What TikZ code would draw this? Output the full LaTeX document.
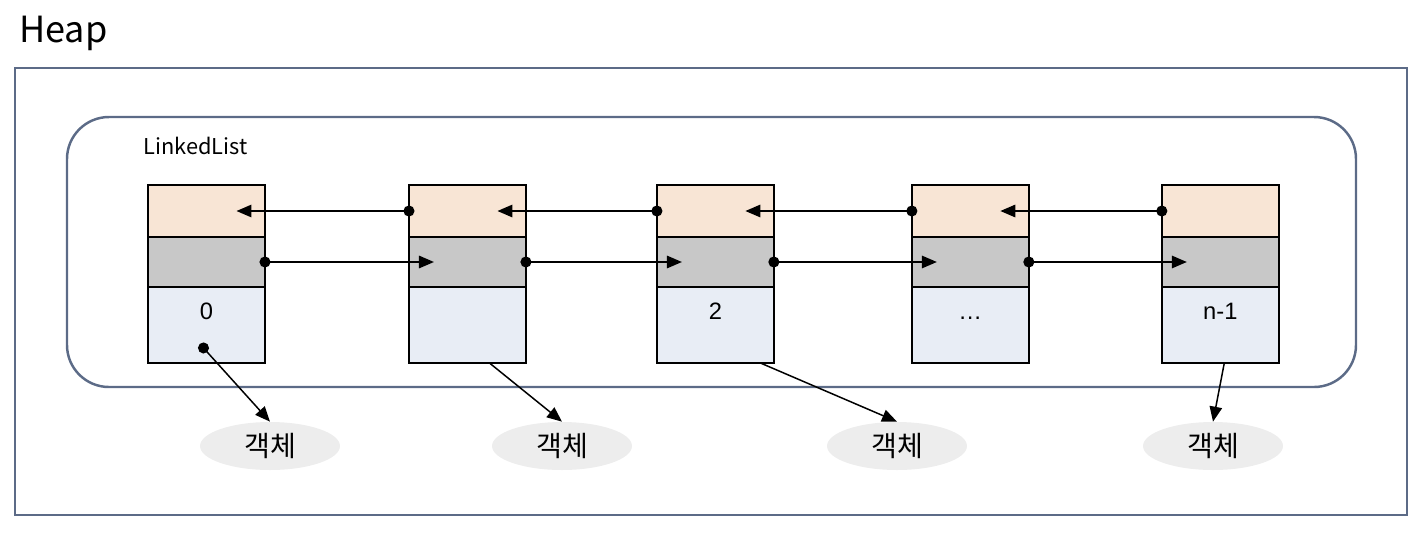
\documentclass[tikz,border=0pt]{standalone}
\usepackage{fontspec}
\setmainfont{Noto Sans CJK KR}
\newfontfamily\numfont{Liberation Sans}
\usetikzlibrary{positioning, arrows.meta, shapes.geometric, calc}
\definecolor{heapslate}{HTML}{5C6B87}
\definecolor{prevpeach}{HTML}{F8E5D5}
\definecolor{nextgray}{HTML}{C8C8C8}
\definecolor{itemblue}{HTML}{E8EDF5}
\definecolor{objgray}{HTML}{EDEDED}

\begin{document}
\begin{tikzpicture}[
  x=0.02cm, y=-0.02cm,
  cell/.style={draw=black, line width=1.1pt, minimum width=2.34cm, outer sep=0pt, inner sep=0pt},
  prevcell/.style={cell, fill=prevpeach, minimum height=1.04cm},
  nextcell/.style={cell, fill=nextgray, minimum height=1.0cm},
  itemcell/.style={cell, fill=itemblue, minimum height=1.52cm, text height=0.66cm, text depth=0.86cm,
    font=\numfont\fontsize{13.5}{15}\selectfont},
  obj/.style={ellipse, fill=objgray, minimum width=2.8cm, minimum height=0.96cm, inner sep=0pt,
    font=\fontsize{16}{18}\selectfont},
  heapframe/.style={draw=heapslate, line width=1.4pt},
  ptr/.style={{Circle[length=0.22cm]}-{Triangle[length=0.3cm, width=0.25cm]}, line width=0.85pt, shorten <=-0.11cm},
  objarr/.style={-{Triangle[length=0.3cm, width=0.25cm]}, line width=0.85pt}
]
\useasboundingbox (0,0) rectangle (1424,532);
\node[font=\fontsize{20.5}{24}\selectfont, anchor=base west, inner sep=0pt] (heap) at (19,42) {Heap};
\draw[heapframe] (15,68) rectangle (1407,515);
\draw[heapframe, rounded corners=0.84cm] (67,117) rectangle (1356,387);
\node[font=\fontsize{12.4}{15}\selectfont, anchor=base west, inner sep=0pt] (listname) at (143,154) {LinkedList};

\node[prevcell] (p0) at (206.5,211) {};
\node[nextcell, below=0pt of p0] (x0) {};
\node[itemcell, below=0pt of x0] (v0) {0};
\node[prevcell, right=2.88cm of p0] (p1) {};
\node[nextcell, below=0pt of p1] (x1) {};
\node[itemcell, below=0pt of x1] (v1) {};
\node[prevcell, right=2.62cm of p1] (p2) {};
\node[nextcell, below=0pt of p2] (x2) {};
\node[itemcell, below=0pt of x2] (v2) {2};
\node[prevcell, right=2.76cm of p2] (p3) {};
\node[nextcell, below=0pt of p3] (x3) {};
\node[itemcell, below=0pt of x3] (v3) {…};
\node[prevcell, right=2.66cm of p3] (p4) {};
\node[nextcell, below=0pt of p4] (x4) {};
\node[itemcell, below=0pt of x4] (v4) {n-1};

\node[obj] (obj0) at (270,446) {객체};
\node[obj] (obj1) at (562,446) {객체};
\node[obj] (obj2) at (897,446) {객체};
\node[obj] (objn) at (1213,446) {객체};

\draw[ptr] (p1.west) -- ($(p0.center)+(30,0)$);
\draw[ptr] (p2.west) -- ($(p1.center)+(30,0)$);
\draw[ptr] (p3.west) -- ($(p2.center)+(30,0)$);
\draw[ptr] (p4.west) -- ($(p3.center)+(30,0)$);
\draw[ptr] (x0.east) -- ($(x1.west)+(25,0)$);
\draw[ptr] (x1.east) -- ($(x2.west)+(25,0)$);
\draw[ptr] (x2.east) -- ($(x3.west)+(25,0)$);
\draw[ptr] (x3.east) -- ($(x4.west)+(25,0)$);

\draw[ptr] ($(v0.south)+(-3,-15)$) -- (obj0.north);
\draw[objarr] ($(v1.south)+(22,0)$) -- (obj1.north);
\draw[objarr] ($(v2.south)+(45,0)$) -- (obj2.north);
\draw[objarr] ($(v4.south)+(4,0)$) -- (objn.north);
\end{tikzpicture}
\end{document}
